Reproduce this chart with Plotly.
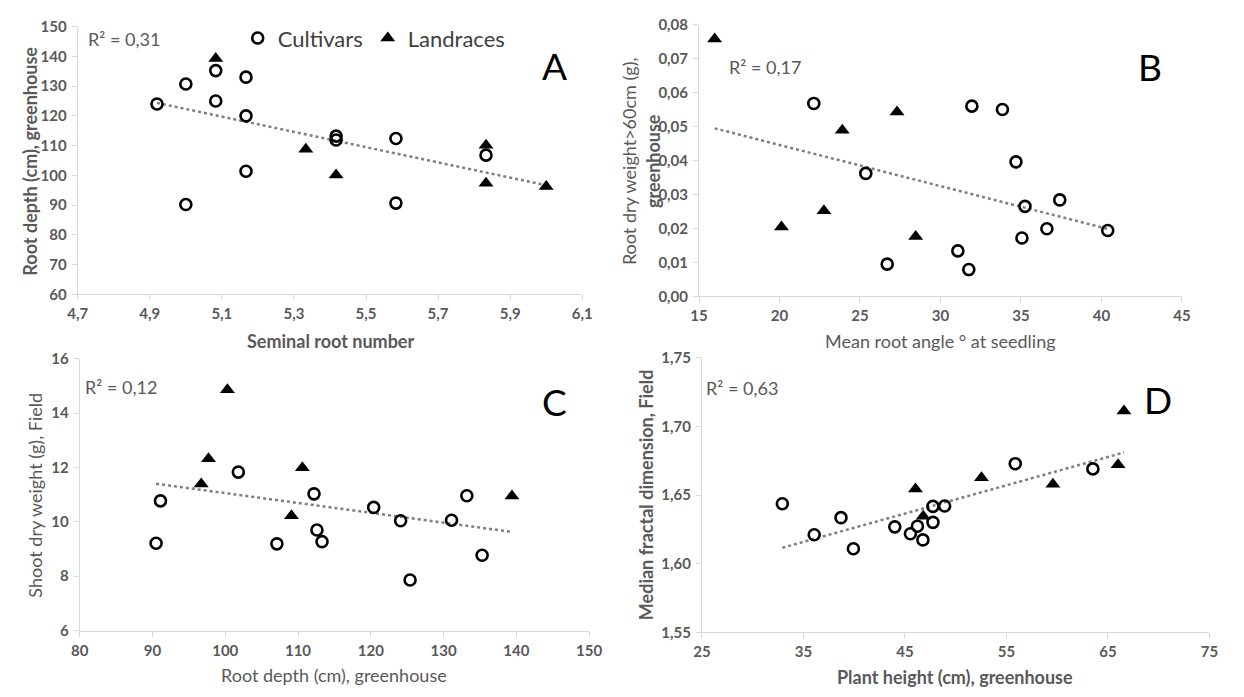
import numpy as np
import plotly.graph_objects as go

# ---------------- data ----------------
# Panel A: Seminal root number vs Root depth (cm), greenhouse
a_cult_x = [4.92, 5.00, 5.083, 5.083, 5.167, 5.167, 5.167, 5.00, 5.417, 5.417, 5.583, 5.583, 5.833]
a_cult_y = [124.0, 130.7, 135.2, 125.0, 133.0, 120.0, 101.4, 90.2, 113.2, 111.9, 112.4, 90.7, 106.8]
a_land_x = [5.083, 5.333, 5.417, 5.833, 5.833, 6.00]
a_land_y = [139.3, 108.8, 100.1, 110.1, 97.4, 96.3]

# Panel B: Mean root angle vs Root dry weight >60cm (g)
b_cult_x = [22.13, 25.36, 26.69, 31.08, 31.76, 31.95, 33.85, 34.69, 35.25, 35.06, 36.61, 37.41, 40.39]
b_cult_y = [0.0568, 0.0362, 0.0095, 0.0134, 0.0079, 0.0560, 0.0550, 0.0396, 0.0265, 0.0172, 0.0199, 0.0284, 0.0194]
b_land_x = [15.97, 20.12, 22.76, 23.90, 27.30, 28.46]
b_land_y = [0.0758, 0.0204, 0.0252, 0.0489, 0.0543, 0.0176]

# Panel C: Root depth (cm), greenhouse vs Shoot dry weight (g), Field
c_cult_x = [90.5, 91.1, 101.8, 107.1, 112.2, 112.6, 113.3, 120.4, 124.1, 125.4, 131.1, 133.2, 135.3]
c_cult_y = [9.21, 10.77, 11.83, 9.19, 11.03, 9.70, 9.27, 10.53, 10.04, 7.86, 10.06, 10.96, 8.77]
c_land_x = [100.3, 97.7, 96.7, 110.6, 109.1, 139.4]
c_land_y = [14.86, 12.32, 11.39, 11.99, 10.22, 10.95]

# Panel D: Plant height (cm), greenhouse vs Median fractal dimension, Field
d_cult_x = [32.92, 36.06, 38.70, 39.92, 44.00, 45.54, 46.23, 46.77, 47.76, 47.76, 48.91, 55.87, 63.52]
d_cult_y = [1.6437, 1.6212, 1.6336, 1.6110, 1.6269, 1.6219, 1.6274, 1.6174, 1.6302, 1.6418, 1.6421, 1.6729, 1.6691]
d_land_x = [66.58, 66.00, 59.58, 52.54, 46.04, 46.80]
d_land_y = [1.7113, 1.6722, 1.6580, 1.6627, 1.6544, 1.6347]

r2_labels = ["R² = 0,31", "R² = 0,17", "R² = 0,12", "R² = 0,63"]
panel_letters = ["A", "B", "C", "D"]

# ---------------- styling ----------------
W, H = 1244, 697
FONT = "Lato, 'Open Sans', sans-serif"
GRAY = "#595959"
AXC = "#d9d9d9"

def px2fx(p):
    return p / W

def py2fy(p):
    return 1 - p / H

# plot areas in pixels: (x0, x1, y_top, y_bottom)
areas = {
    1: (69, 583, 17, 292),
    2: (702, 1194, 15, 294),
    3: (71, 590, 358, 637),
    4: (705, 1222, 357, 639),
}

fig = go.Figure()

panels = [
    (a_cult_x, a_cult_y, a_land_x, a_land_y),
    (b_cult_x, b_cult_y, b_land_x, b_land_y),
    (c_cult_x, c_cult_y, c_land_x, c_land_y),
    (d_cult_x, d_cult_y, d_land_x, d_land_y),
]

for i, (cx, cy, lx, ly) in enumerate(panels, start=1):
    xa = "x" if i == 1 else f"x{i}"
    ya = "y" if i == 1 else f"y{i}"
    allx = np.array(cx + lx)
    ally = np.array(cy + ly)
    m, b = np.polyfit(allx, ally, 1)
    tx = np.array([allx.min(), allx.max()])
    fig.add_trace(go.Scatter(
        x=tx, y=m * tx + b, mode="lines", xaxis=xa, yaxis=ya,
        line=dict(color="#7f7f7f", width=2.5, dash="dot"),
        showlegend=False, hoverinfo="skip"))
    fig.add_trace(go.Scatter(
        x=cx, y=cy, mode="markers", xaxis=xa, yaxis=ya, name="Cultivars",
        marker=dict(symbol="circle-open", size=11, color="black",
                    line=dict(width=2.6, color="black")),
        showlegend=(i == 1)))
    fig.add_trace(go.Scatter(
        x=lx, y=ly, mode="markers", xaxis=xa, yaxis=ya, name="Landraces",
        marker=dict(symbol="triangle-up", size=13, color="black",
                    line=dict(width=0)),
        showlegend=(i == 1)))

axis_specs = {
    1: dict(xr=[4.7, 6.1], xd=0.2, xf=".1f", yr=[60, 150], yd=10, yf="d"),
    2: dict(xr=[15, 45], xd=5, xf="d", yr=[0, 0.08], yd=0.01, yf=".2f"),
    3: dict(xr=[80, 150], xd=10, xf="d", yr=[6, 16], yd=2, yf="d"),
    4: dict(xr=[25, 75], xd=10, xf="d", yr=[1.55, 1.75], yd=0.05, yf=".2f"),
}

layout = {}
for i, spec in axis_specs.items():
    x0, x1, yt, yb = areas[i]
    xk = "xaxis" if i == 1 else f"xaxis{i}"
    yk = "yaxis" if i == 1 else f"yaxis{i}"
    xa_anchor = "y" if i == 1 else f"y{i}"
    ya_anchor = "x" if i == 1 else f"x{i}"
    tickfont = dict(family=FONT, size=15, color=GRAY, weight="bold")
    layout[xk] = dict(
        domain=[px2fx(x0), px2fx(x1)], anchor=xa_anchor, range=spec["xr"],
        tick0=spec["xr"][0], dtick=spec["xd"], tickformat=spec["xf"],
        showgrid=False, zeroline=False, showline=True, linecolor=AXC, linewidth=1,
        ticks="outside", ticklen=5, tickcolor=AXC, tickfont=tickfont,
        ticklabelstandoff=1)
    layout[yk] = dict(
        domain=[py2fy(yb), py2fy(yt)], anchor=ya_anchor, range=spec["yr"],
        tick0=spec["yr"][0], dtick=spec["yd"], tickformat=spec["yf"],
        showgrid=False, zeroline=False, showline=True, linecolor=AXC, linewidth=1,
        ticks="outside", ticklen=5, tickcolor=AXC, tickfont=tickfont,
        ticklabelstandoff=2)

fig.update_layout(**layout)

ann = []

def text_ann(text, x, y, size, color=GRAY, angle=0, xanchor="center", yanchor="middle", align="center"):
    ann.append(dict(text=text, x=px2fx(x), y=py2fy(y), xref="paper", yref="paper",
                    showarrow=False, textangle=angle, xanchor=xanchor, yanchor=yanchor,
                    align=align, font=dict(family=FONT, size=size, color=color)))

TS = 18
# axis titles
text_ann("<b>Seminal root number</b>", 327, 340, TS)
text_ann("<b>Root depth (cm), greenhouse</b>", 20, 155, TS, angle=-90)
text_ann("Root dry weight>60cm (g),<br><b>greenhouse</b>", 643, 155, TS, angle=-90)
text_ann("Mean root angle ° at seedling", 948, 340, TS)
text_ann("Root depth (cm), greenhouse", 330, 683, TS)
text_ann("Shoot dry weight (g), Field", 26, 498, TS, angle=-90)
text_ann("<b>Median fractal dimension, Field</b>", 648, 498, TS, angle=-90)
text_ann("<b>Plant height (cm), greenhouse</b>", 963, 685, TS)

# R² labels
r2_pos = [(77, 30), (731, 58), (74, 387), (707, 388)]
for lab, (x, y) in zip(r2_labels, r2_pos):
    text_ann(lab, x, y, TS, xanchor="left")

# panel letters
letter_pos = [(555, 57), (1161, 58), (555, 402), (1170, 400)]
for lab, (x, y) in zip(panel_letters, letter_pos):
    text_ann(lab, x, y, 37, color="black")

fig.update_layout(
    width=W, height=H, margin=dict(l=0, r=0, t=0, b=0),
    paper_bgcolor="white", plot_bgcolor="white",
    separators=", ",
    annotations=ann,
    font=dict(family=FONT, color=GRAY),
    legend=dict(orientation="h", x=px2fx(232), y=py2fy(29), xanchor="left", yanchor="middle",
                font=dict(family=FONT, size=22, color="#404040"),
                bgcolor="rgba(0,0,0,0)", itemwidth=30, tracegroupgap=0),
)

fig.write_html("out.html",
               config={"displayModeBar": False},
               post_script="document.body.style.margin='0';document.body.style.overflow='hidden';")
